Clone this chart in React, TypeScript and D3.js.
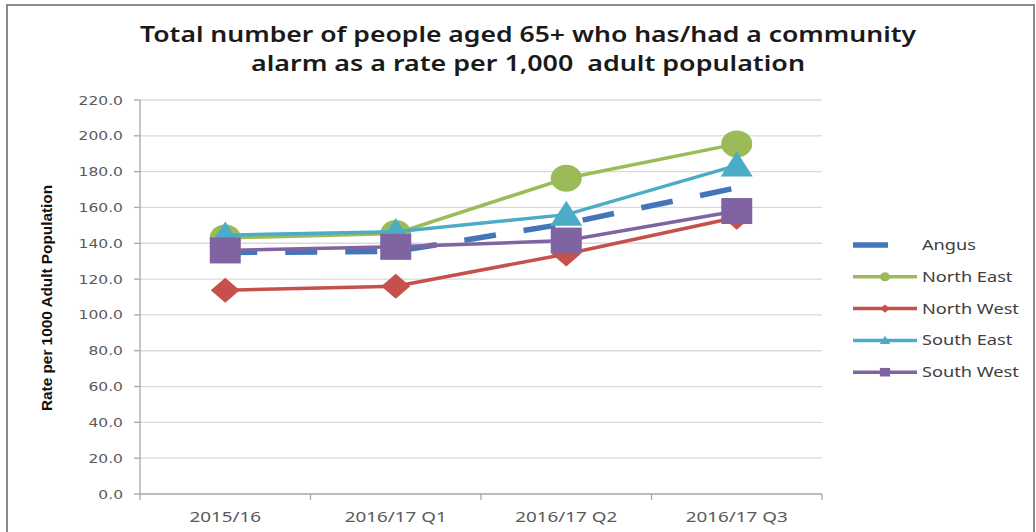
import React from "react";
import * as d3 from "d3";

const categories = ["2015/16", "2016/17 Q1", "2016/17 Q2", "2016/17 Q3"];
const angus = [134.8, 135.5, 151.0, 171.0];
const northEast = [143.0, 145.5, 176.3, 195.5];
const northWest = [113.8, 116.0, 134.0, 154.5];
const southEast = [144.5, 146.5, 156.0, 183.5];
const southWest = [136.0, 138.0, 141.5, 158.0];
const yTicks = [0, 20, 40, 60, 80, 100, 120, 140, 160, 180, 200, 220];
const titleLines = [
  "Total number of people aged 65+ who has/had a community",
  "alarm as a rate per 1,000  adult population",
];
const yAxisTitle = "Rate per 1000 Adult Population";

type Series = { name: string; values: number[]; color: string; marker: string; dashed?: boolean };
const series: Series[] = [
  { name: "Angus", values: angus, color: "#4376b8", marker: "none", dashed: true },
  { name: "North East", values: northEast, color: "#9bbb59", marker: "circle" },
  { name: "North West", values: northWest, color: "#c6504c", marker: "diamond" },
  { name: "South East", values: southEast, color: "#4bacc6", marker: "triangle" },
  { name: "South West", values: southWest, color: "#8064a2", marker: "square" },
];

const FONT = "'Noto Sans', 'Open Sans', sans-serif";

function Marker({ kind, x, y, color, s }: { kind: string; x: number; y: number; color: string; s: number }) {
  if (kind === "circle") return <ellipse cx={x} cy={y} rx={15.5 * s} ry={13.5 * s} fill={color} />;
  if (kind === "square") return <rect x={x - 15.5 * s} y={y - 13 * s} width={31 * s} height={26 * s} fill={color} />;
  if (kind === "triangle") {
    const w = 16 * s, h = 25 * s;
    return <path d={`M${x},${y - h * 0.55}L${x + w},${y + h * 0.45}L${x - w},${y + h * 0.45}Z`} fill={color} />;
  }
  if (kind === "diamond") {
    const w = 14.5 * s, h = 12.5 * s;
    return <path d={`M${x},${y - h}L${x + w},${y}L${x},${y + h}L${x - w},${y}Z`} fill={color} />;
  }
  return null;
}

export default function App() {
  const W = 1036, H = 532;
  const left = 140, right = 822, top = 100, bottom = 494;
  const x = d3.scaleBand<string>().domain(categories).range([left, right]).paddingInner(0).paddingOuter(0);
  const cx = (c: string) => (x(c) as number) + x.bandwidth() / 2;
  const y = d3.scaleLinear().domain([0, 220]).range([bottom, top]);
  const line = d3
    .line<number>()
    .x((_, i) => cx(categories[i]))
    .y((d) => y(d));

  const legendX1 = 853, legendX2 = 917, legendTextX = 922;
  const legendY0 = 245, legendStep = 31.8;

  return (
    <svg width={W} height={H} style={{ position: "absolute", left: 0, top: 0, background: "#fff" }}>
      <rect x={0} y={0} width={W} height={H} fill="#fff" />
      <rect x={7} y={5} width={1027} height={540} fill="#fff" stroke="#8a8a8a" strokeWidth={2} />

      {/* title */}
      <text x={528} y={42} textAnchor="middle" fontFamily={FONT} fontWeight={600} fontSize={22} fill="#1a1a1a"
        textLength={776} lengthAdjust="spacingAndGlyphs" style={{ whiteSpace: "pre" }}>{titleLines[0]}</text>
      <text x={528} y={71} textAnchor="middle" fontFamily={FONT} fontWeight={600} fontSize={22} fill="#1a1a1a"
        textLength={554} lengthAdjust="spacingAndGlyphs" style={{ whiteSpace: "pre" }}>{titleLines[1]}</text>

      {/* gridlines */}
      {yTicks.map((t) => (
        <line key={t} x1={left} x2={right} y1={y(t)} y2={y(t)} stroke={t === 0 ? "#a6a6a6" : "#d9d9d9"} strokeWidth={1.3} />
      ))}
      <line x1={left} x2={left} y1={top} y2={bottom} stroke="#a6a6a6" strokeWidth={1.3} />
      {yTicks.map((t) => (
        <line key={"tk" + t} x1={left - 6} x2={left} y1={y(t)} y2={y(t)} stroke="#a6a6a6" strokeWidth={1.3} />
      ))}
      {[...categories.map((c) => x(c) as number), right].map((v, i) => (
        <line key={"xt" + i} x1={v} x2={v} y1={bottom} y2={bottom + 6} stroke="#a6a6a6" strokeWidth={1.3} />
      ))}

      {/* y tick labels */}
      {yTicks.map((t) => (
        <text key={"yl" + t} transform={`translate(123,${y(t) + 4.5}) scale(1.35,1)`} textAnchor="end"
          fontFamily="'DejaVu Sans', sans-serif" fontSize={11.5} fill="#595959">{t.toFixed(1)}</text>
      ))}

      {/* x labels */}
      {categories.map((c) => (
        <text key={c} transform={`translate(${cx(c)},${522}) scale(1.3,1)`} textAnchor="middle"
          fontFamily={FONT} fontSize={14.5} fill="#595959">{c}</text>
      ))}

      {/* y axis title */}
      <text transform={`translate(52,298) rotate(-90)`} textAnchor="middle" fontFamily="'Liberation Sans Narrow', 'Liberation Sans', sans-serif"
        fontWeight="bold" fontSize={14} fill="#111" textLength={226} lengthAdjust="spacingAndGlyphs">{yAxisTitle}</text>

      {/* series */}
      {series.map((s) => (
        <g key={s.name}>
          <path d={line(s.values) as string} fill="none" stroke={s.color}
            strokeWidth={s.dashed ? 5.5 : 3.5} strokeDasharray={s.dashed ? "32 28" : undefined} />
          {s.values.map((v, i) => (
            <Marker key={i} kind={s.marker} x={cx(categories[i])} y={y(v)} color={s.color} s={1} />
          ))}
        </g>
      ))}

      {/* legend */}
      {series.map((s, i) => {
        const ly = legendY0 + i * legendStep;
        return (
          <g key={"lg" + s.name}>
            {s.dashed ? (
              <line x1={legendX1} x2={888} y1={ly} y2={ly} stroke={s.color} strokeWidth={5.5} />
            ) : (
              <>
                <line x1={legendX1} x2={legendX2} y1={ly} y2={ly} stroke={s.color} strokeWidth={3.5} />
                <Marker kind={s.marker} x={(legendX1 + legendX2) / 2} y={ly} color={s.color} s={0.33} />
              </>
            )}
            <text transform={`translate(${legendTextX},${ly + 5}) scale(1.3,1)`} fontFamily={FONT} fontSize={14}
              fill="#404040">{s.name}</text>
          </g>
        );
      })}
    </svg>
  );
}
